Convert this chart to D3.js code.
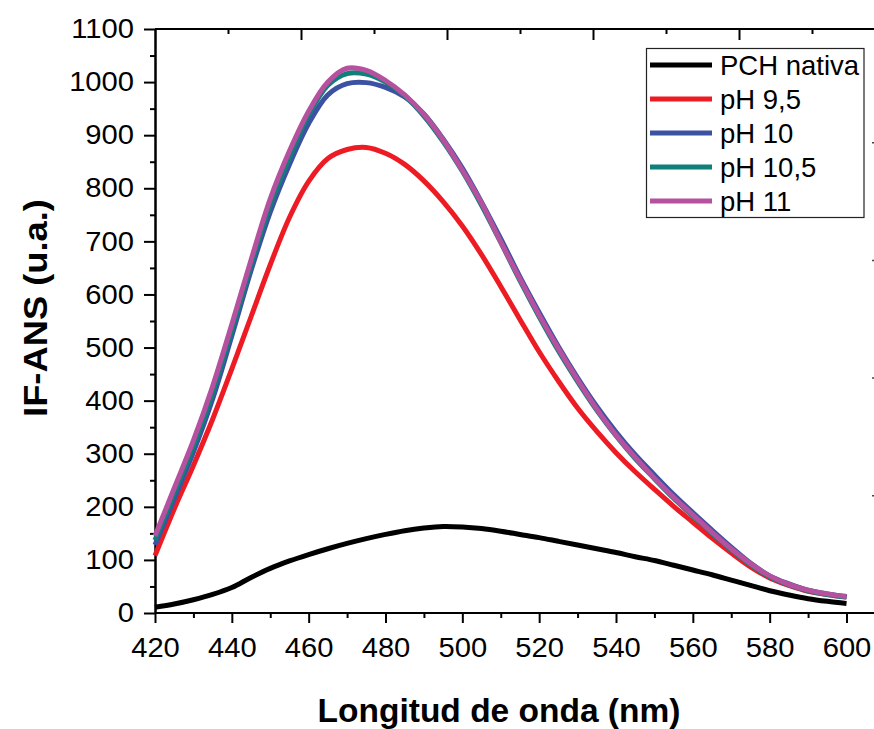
<!DOCTYPE html>
<html>
<head>
<meta charset="utf-8">
<script src="https://cdn.jsdelivr.net/npm/d3@7"></script>
<style>
  body { margin: 0; background: #fff; }
  svg { display: block; font-family: "Liberation Sans", Arial, sans-serif; }
  .axis path, .axis line { stroke: #000; stroke-width: 2; }
</style>
</head>
<body>
<div id="chart"></div>
<script>
var wavelengths = [420, 425, 430, 435, 440, 445, 450, 455, 460, 465, 470, 475, 480, 485, 490, 495, 500, 505, 510,
  515, 520, 525, 530, 535, 540, 545, 550, 555, 560, 565, 570, 575, 580, 585, 590, 595, 600];

var pchNativa = [11, 17, 25, 35, 48, 67, 84, 98, 110, 121, 131, 140, 148, 155, 160, 163, 162, 159, 154,
  148, 142, 135, 128, 121, 114, 106, 99, 90, 81, 72, 62, 52, 42, 34, 27, 22, 18];
var ph95 = [108, 196, 278, 365, 460, 558, 656, 745, 813, 856, 873, 877, 866, 845, 814, 775, 729, 675, 615,
  553, 492, 437, 386, 342, 302, 266, 233, 201, 171, 141, 113, 87, 66, 52, 41, 35, 30];
var ph10 = [128, 215, 303, 403, 522, 645, 755, 845, 922, 976, 997, 999, 990, 972, 940, 893, 838, 774, 705,
  633, 566, 502, 443, 389, 341, 298, 260, 223, 189, 156, 124, 94, 70, 55, 43, 36, 31];
var ph105 = [137, 225, 314, 415, 533, 655, 768, 858, 938, 994, 1016, 1015, 1000, 974, 936, 888, 832, 768, 698,
  626, 558, 494, 436, 382, 334, 291, 253, 216, 183, 150, 119, 91, 68, 53, 42, 35, 30];
var ph11 = [145, 235, 325, 427, 544, 665, 780, 870, 945, 1000, 1026, 1022, 1003, 976, 939, 891, 834, 772, 699,
  629, 561, 498, 439, 384, 335, 293, 254, 218, 185, 152, 121, 93, 70, 54, 43, 36, 31];

var seriesNames = ["PCH nativa", "pH 9,5", "pH 10", "pH 10,5", "pH 11"];
var seriesColors = ["#000000", "#ed1c24", "#3d51a2", "#0f7f79", "#b5519e"];
var seriesValues = [pchNativa, ph95, ph10, ph105, ph11];

var xTicks = [420, 440, 460, 480, 500, 520, 540, 560, 580, 600];
var yTicks = [0, 100, 200, 300, 400, 500, 600, 700, 800, 900, 1000, 1100];

var width = 874, height = 729;

var svg = d3.select("#chart").append("svg")
  .attr("width", width)
  .attr("height", height);

var x = d3.scaleLinear().domain([420, 600]).range([155, 846.5]);
var y = d3.scaleLinear().domain([0, 1100]).range([613, 29]);

function stretch(sel, k) {
  sel.each(function() {
    var w = this.getComputedTextLength();
    d3.select(this).attr("textLength", w * k).attr("lengthAdjust", "spacingAndGlyphs");
  });
}

// frame: top and bottom lines run off the right edge
svg.append("line")
  .attr("x1", 155).attr("x2", width + 20)
  .attr("y1", 29).attr("y2", 29)
  .attr("stroke", "#000").attr("stroke-width", 2);
svg.append("line")
  .attr("x1", 155).attr("x2", width + 20)
  .attr("y1", 613).attr("y2", 613)
  .attr("stroke", "#000").attr("stroke-width", 2);

// top axis ticks (inward)
var xTop = d3.scaleLinear().domain([0, 10]).range([155, 885]);
svg.append("g")
  .attr("class", "axis")
  .attr("transform", "translate(0,29)")
  .call(d3.axisBottom(xTop).tickValues([1, 3, 5, 7, 9]).tickSize(5).tickSizeOuter(0).tickFormat(""))
  .call(g => g.select(".domain").remove());
svg.append("g")
  .attr("class", "axis")
  .attr("transform", "translate(0,29)")
  .call(d3.axisBottom(xTop).tickValues([2, 4, 6, 8]).tickSize(11).tickSizeOuter(0).tickFormat(""))
  .call(g => g.select(".domain").remove());

// stray ticks of the right axis, just off the edge
var yRight = d3.scaleLinear().domain([0, 5]).range([613, 24.5]);
svg.append("g")
  .attr("transform", "translate(885,0)")
  .call(d3.axisLeft(yRight).tickValues([1, 2, 3, 4]).tickSize(13).tickFormat(""))
  .call(g => g.select(".domain").remove())
  .selectAll("line").attr("stroke", "#444").attr("stroke-width", 1.5);

// bottom axis
svg.append("g")
  .attr("class", "axis")
  .attr("transform", "translate(0,613)")
  .call(d3.axisBottom(x).tickValues(d3.range(430, 600, 20)).tickSize(5).tickSizeOuter(0).tickFormat(""))
  .call(g => g.select(".domain").remove());
var xAxis = svg.append("g")
  .attr("class", "axis")
  .attr("transform", "translate(0,613)")
  .call(d3.axisBottom(x).tickValues(xTicks).tickSize(10).tickSizeOuter(0).tickPadding(15).tickFormat(d3.format("d")))
  .call(g => g.select(".domain").remove());
xAxis.selectAll("text")
  .attr("font-size", 27)
  .attr("fill", "#000")
  .call(stretch, 1.08);

// left axis
svg.append("g")
  .attr("class", "axis")
  .attr("transform", "translate(155,0)")
  .call(d3.axisLeft(y).tickValues(d3.range(50, 1100, 100)).tickSize(5).tickSizeOuter(0).tickFormat(""));
var yAxis = svg.append("g")
  .attr("class", "axis")
  .attr("transform", "translate(155,0)")
  .call(d3.axisLeft(y).tickValues(yTicks).tickSize(11).tickSizeOuter(0).tickPadding(10).tickFormat(d3.format("d")));
yAxis.selectAll("text")
  .attr("font-size", 27)
  .attr("fill", "#000")
  .call(stretch, 1.08);

// curves
var line = d3.line()
  .x((d, i) => x(wavelengths[i]))
  .y(d => y(d))
  .curve(d3.curveCatmullRom.alpha(0.5));

svg.append("g")
  .attr("fill", "none")
  .attr("stroke-width", 5)
  .attr("stroke-linejoin", "round")
  .selectAll("path")
  .data(seriesValues)
  .join("path")
  .attr("stroke", (d, i) => seriesColors[i])
  .attr("d", line);

// legend
var legend = svg.append("g");
legend.append("rect")
  .attr("x", 646.5).attr("y", 48.5)
  .attr("width", 217.5).attr("height", 169)
  .attr("fill", "#fff")
  .attr("stroke", "#222")
  .attr("stroke-width", 1.2);
var item = legend.selectAll("g")
  .data(seriesNames)
  .join("g")
  .attr("transform", (d, i) => `translate(0,${65 + i * 34})`);
item.append("line")
  .attr("x1", 650).attr("x2", 712)
  .attr("stroke", (d, i) => seriesColors[i])
  .attr("stroke-width", 5);
item.append("text")
  .attr("x", 720)
  .attr("y", 10)
  .attr("font-size", 27.5)
  .text(d => d);

// axis titles
svg.append("text")
  .attr("x", 499)
  .attr("y", 722)
  .attr("text-anchor", "middle")
  .attr("font-size", 33.5)
  .attr("font-weight", "bold")
  .text("Longitud de onda (nm)");

svg.append("text")
  .attr("transform", "translate(47,308) rotate(-90)")
  .attr("text-anchor", "middle")
  .attr("font-size", 33)
  .attr("font-weight", "bold")
  .text("IF-ANS (u.a.)")
  .call(stretch, 1.1);
</script>
</body>
</html>
